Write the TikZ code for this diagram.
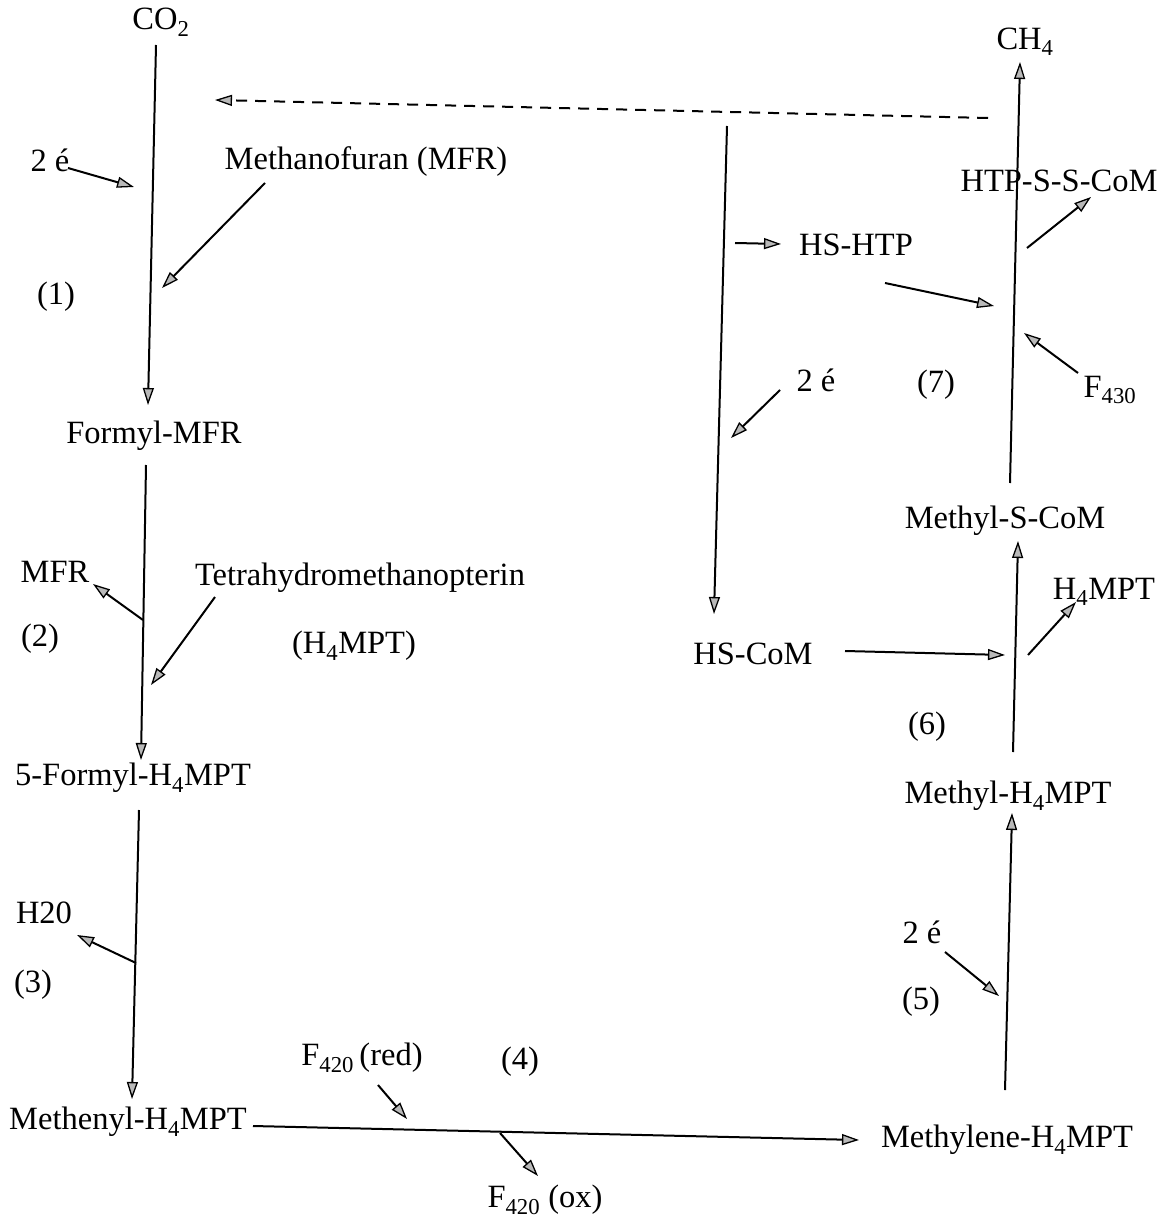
\documentclass[tikz,border=0pt]{standalone}
\usepackage{fontspec}
\setmainfont{Liberation Serif}
\usetikzlibrary{arrows.meta}
\begin{document}
\begin{tikzpicture}[x=1pt,y=-1pt,
  lbl/.style={inner sep=0pt,font=\fontsize{32.5}{38}\selectfont},
  rx/.style={line width=2pt,-{Triangle[length=17pt,width=11pt,fill=gray!55,line width=1.3pt]}},
  dsh/.style={rx,dashed,dash pattern=on 11pt off 8pt}]
\useasboundingbox (0,0) rectangle (1168,1222);
% labels
\node[lbl] (co2) at (161,22) {CO\textsubscript{2}};
\node[lbl] (e1) at (50,160) {2 é};
\node[lbl] (mfrin) at (366,162) {Methanofuran (MFR)};
\node[lbl] (n1) at (56,297) {(1)};
\node[lbl] (formylmfr) at (154,436) {Formyl-MFR};
\node[lbl] (mfrout) at (55,572) {MFR};
\node[lbl] (thm) at (360,578) {Tetrahydromethanopterin};
\node[lbl] (thm2) at (354,646) {(H\textsubscript{4}MPT)};
\node[lbl] (n2) at (40,639) {(2)};
\node[lbl] (formylh4) at (133,778) {5-Formyl-H\textsubscript{4}MPT};
\node[lbl] (h2o) at (44,913) {H20};
\node[lbl] (n3) at (33,985) {(3)};
\node[lbl] (methenyl) at (128,1122) {Methenyl-H\textsubscript{4}MPT};
\node[lbl] (fred) at (362,1058) {F\textsubscript{420}\,(red)};
\node[lbl] (n4) at (520,1062) {(4)};
\node[lbl] (fox) at (545,1200) {F\textsubscript{420} (ox)};
\node[lbl] (methylene) at (1007,1140) {Methylene-H\textsubscript{4}MPT};
\node[lbl] (e5) at (922,932) {2 é};
\node[lbl] (n5) at (921,1002) {(5)};
\node[lbl] (methylh4) at (1008,796) {Methyl-H\textsubscript{4}MPT};
\node[lbl] (n6) at (927,727) {(6)};
\node[lbl] (hscom) at (753,654) {HS-CoM};
\node[lbl] (h4out) at (1104,592) {H\textsubscript{4}MPT};
\node[lbl] (methylscom) at (1005,521) {Methyl-S-CoM};
\node[lbl] (ch4) at (1025,42) {CH\textsubscript{4}};
\node[lbl] (htpsscom) at (1059,181) {HTP-S-S-CoM};
\node[lbl] (hshtp) at (856,245) {HS-HTP};
\node[lbl] (f430) at (1110,390) {F\textsubscript{430}};
\node[lbl] (n7) at (936,385) {(7)};
\node[lbl] (e7) at (816,380) {2 é};
% connector end points
\coordinate (a1s) at (156,45);   \coordinate (a1e) at (148,405);
\coordinate (b1s) at (68,168);   \coordinate (b1e) at (134,187);
\coordinate (c1s) at (265,183);  \coordinate (c1e) at (162,288);
\coordinate (a2s) at (146,465);  \coordinate (a2e) at (141,760);
\coordinate (j2) at (143,620);   \coordinate (b2e) at (93,584);
\coordinate (c2s) at (215,597);  \coordinate (c2e) at (151,685);
\coordinate (a3s) at (139,810);  \coordinate (a3e) at (132,1099);
\coordinate (j3) at (136,963);   \coordinate (b3e) at (77,935);
\coordinate (a4s) at (253,1126); \coordinate (a4e) at (859,1140);
\coordinate (b4s) at (378,1085); \coordinate (b4e) at (407,1119);
\coordinate (c4s) at (500,1133); \coordinate (c4e) at (538,1176);
\coordinate (a5s) at (1005,1090);\coordinate (a5e) at (1012,813);
\coordinate (b5s) at (945,952);  \coordinate (b5e) at (999,996);
\coordinate (a6s) at (1013,752); \coordinate (a6e) at (1018,541);
\coordinate (b6s) at (845,651);  \coordinate (b6e) at (1005,655);
\coordinate (c6s) at (1028,655); \coordinate (c6e) at (1076,602);
\coordinate (a7s) at (1010,483); \coordinate (a7e) at (1020,62);
\coordinate (b7s) at (1027,248); \coordinate (b7e) at (1091,197);
\coordinate (c7s) at (885,283);  \coordinate (c7e) at (994,306);
\coordinate (d7s) at (1078,373); \coordinate (d7e) at (1024,333);
\coordinate (ms) at (727,126);   \coordinate (me) at (714,614);
\coordinate (f7s) at (735,243);  \coordinate (f7e) at (781,244);
\coordinate (g7s) at (780,390);  \coordinate (g7e) at (731,438);
\coordinate (ds) at (988,118);   \coordinate (de) at (215,100);
% connectors
\draw[rx] (a1s) -- (a1e);
\draw[rx] (b1s) -- (b1e);
\draw[rx] (c1s) -- (c1e);
\draw[rx] (a2s) -- (a2e);
\draw[rx] (j2) -- (b2e);
\draw[rx] (c2s) -- (c2e);
\draw[rx] (a3s) -- (a3e);
\draw[rx] (j3) -- (b3e);
\draw[rx] (a4s) -- (a4e);
\draw[rx] (b4s) -- (b4e);
\draw[rx] (c4s) -- (c4e);
\draw[rx] (a5s) -- (a5e);
\draw[rx] (b5s) -- (b5e);
\draw[rx] (a6s) -- (a6e);
\draw[rx] (b6s) -- (b6e);
\draw[rx] (c6s) -- (c6e);
\draw[rx] (a7s) -- (a7e);
\draw[rx] (b7s) -- (b7e);
\draw[rx] (c7s) -- (c7e);
\draw[rx] (d7s) -- (d7e);
\draw[rx] (ms) -- (me);
\draw[rx] (f7s) -- (f7e);
\draw[rx] (g7s) -- (g7e);
\draw[dsh] (ds) -- (de);
\end{tikzpicture}
\end{document}
